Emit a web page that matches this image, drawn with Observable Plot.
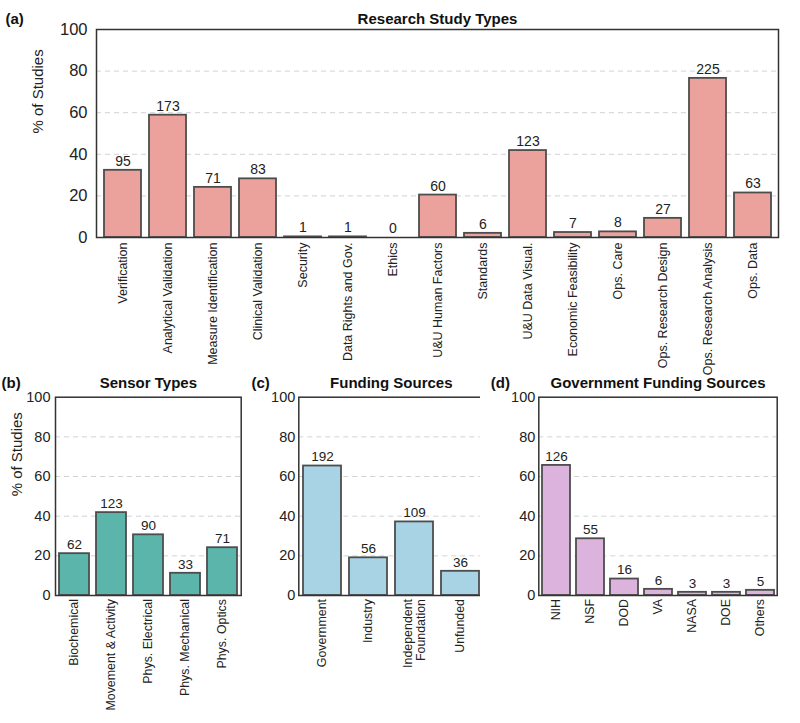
<!DOCTYPE html>
<html><head><meta charset="utf-8">
<script src="https://cdn.jsdelivr.net/npm/d3@7"></script>
<script src="https://cdn.jsdelivr.net/npm/@observablehq/plot@0.6"></script>
<style>
body{margin:0;background:#fff;}
#wrap{position:relative;width:800px;height:723px;overflow:hidden;background:#fff;}
#wrap svg{position:absolute;}
</style></head><body><div id="wrap"></div>
<script>
// (a) Research Study Types
const studyTypes = ["Verification","Analytical Validation","Measure Identification","Clinical Validation","Security","Data Rights and Gov.","Ethics","U&U Human Factors","Standards","U&U Data Visual.","Economic Feasibility","Ops. Care","Ops. Research Design","Ops. Research Analysis","Ops. Data"];
const studyPct = [32.3, 58.8, 24.1, 28.2, 0.3, 0.3, 0, 20.4, 2.0, 41.8, 2.4, 2.7, 9.2, 76.5, 21.4];
const studyCounts = [95, 173, 71, 83, 1, 1, 0, 60, 6, 123, 7, 8, 27, 225, 63];
// (b) Sensor Types
const sensorTypes = ["Biochemical","Movement & Activity","Phys. Electrical","Phys. Mechanical","Phys. Optics"];
const sensorPct = [21.1, 41.8, 30.6, 11.2, 24.1];
const sensorCounts = [62, 123, 90, 33, 71];
// (c) Funding Sources
const fundingTypes = ["Government","Industry","Independent\nFoundation","Unfunded"];
const fundingPct = [65.3, 19.0, 37.1, 12.2];
const fundingCounts = [192, 56, 109, 36];
// (d) Government Funding Sources
const govTypes = ["NIH","NSF","DOD","VA","NASA","DOE","Others"];
const govPct = [65.6, 28.6, 8.3, 3.1, 1.6, 1.6, 2.6];
const govCounts = [126, 55, 16, 6, 3, 3, 5];

const yTicks = [0, 20, 40, 60, 80, 100];
const gridTicks = [20, 40, 60, 80];
const FONT = "Liberation Sans, Arial, Helvetica, sans-serif";

function panel(o) {
  const data = o.names.map((n, i) => ({name: n, pct: o.pct[i], count: o.counts[i]}));
  const marks = [
    Plot.ruleY(gridTicks, {stroke: "#d2d2d2", strokeDasharray: "5,4", strokeWidth: 1}),
    Plot.barY(data, {x: "name", y: "pct", fill: o.color, stroke: "#4d4d4d", strokeWidth: 1.8}),
    Plot.text(data, {x: "name", y: "pct", text: d => String(d.count), dy: -9, fontSize: o.valFs, fill: "#222"}),
    Plot.axisY({ticks: yTicks, tickSize: 0, tickPadding: o.padY, fontSize: o.tickFs, label: null}),
    Plot.axisX({tickSize: 0, tickRotate: -90, tickPadding: o.padX, fontSize: o.xFs, label: null}),
    Plot.frame({stroke: "#333", strokeWidth: 1.5}),
    Plot.text([o.title], {text: d => d, frameAnchor: "top", lineAnchor: "middle", dy: o.titleDy, fontWeight: "bold", fontSize: 15, fill: "#111"}),
    Plot.text([o.letter], {text: d => d, frameAnchor: "top-left", lineAnchor: "middle", dx: o.letterDx, dy: o.titleDy, textAnchor: "start", fontWeight: "bold", fontSize: 15, fill: "#111"})
  ];
  if (o.ylab) marks.push(Plot.text(["% of Studies"], {text: d => d, frameAnchor: "left", lineAnchor: "middle", dx: o.ylabDx, rotate: -90, fontSize: 15, fill: "#222"}));
  const svg = Plot.plot({
    width: o.width, height: o.height,
    marginLeft: o.ml, marginRight: o.mr, marginTop: o.mt, marginBottom: o.mb,
    style: {fontFamily: FONT, fontSize: o.tickFs + "px", color: "#222", background: "transparent"},
    x: {domain: o.names, paddingInner: 0.18, paddingOuter: 0.09},
    y: {domain: [0, 100]},
    marks
  });
  svg.style.left = o.left + "px";
  svg.style.top = o.top + "px";
  document.getElementById("wrap").appendChild(svg);
}

panel({names: studyTypes, pct: studyPct, counts: studyCounts, color: "#eca29c",
  title: "Research Study Types", letter: "(a)", left: 0, top: 0, width: 800, height: 380,
  ml: 96, mr: 22, mt: 29, mb: 143, tickFs: 16.5, xFs: 12.5, valFs: 14, padX: 5, padY: 9,
  titleDy: -10, letterDx: -91, ylab: true, ylabDx: -58.5});

panel({names: sensorTypes, pct: sensorPct, counts: sensorCounts, color: "#5bb5ab",
  title: "Sensor Types", letter: "(b)", left: 0, top: 360, width: 250, height: 363,
  ml: 55, mr: 9.3, mt: 36.7, mb: 128, tickFs: 14.5, xFs: 12.4, valFs: 13.5, padX: 3.5, padY: 5,
  titleDy: -13.7, letterDx: -54, ylab: true, ylabDx: -38});

panel({names: fundingTypes, pct: fundingPct, counts: fundingCounts, color: "#a7d3e5",
  title: "Funding Sources", letter: "(c)", left: 250, top: 360, width: 230, height: 363,
  ml: 48.3, mr: -3.3, mt: 36.7, mb: 128, tickFs: 14.5, xFs: 12.4, valFs: 13.5, padX: 3.5, padY: 3.5,
  titleDy: -13.7, letterDx: -47.3, ylab: false});

panel({names: govTypes, pct: govPct, counts: govCounts, color: "#dcb3dc",
  title: "Government Funding Sources", letter: "(d)", left: 480, top: 360, width: 320, height: 363,
  ml: 58.3, mr: 23.3, mt: 36.7, mb: 128, tickFs: 14.5, xFs: 12.4, valFs: 13.5, padX: 3.5, padY: 3.5,
  titleDy: -13.7, letterDx: -48, ylab: false});
</script>
</body></html>
